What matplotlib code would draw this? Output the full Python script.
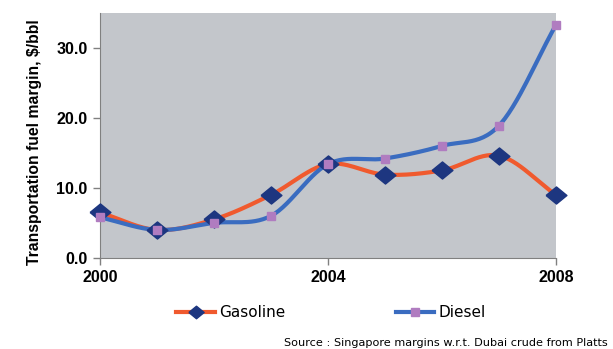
import matplotlib.pyplot as plt
import matplotlib.font_manager as fm
import numpy as np

plt.rcParams['font.family'] = ['Liberation Sans', 'DejaVu Sans']

# data
years = [2000, 2001, 2002, 2003, 2004, 2005, 2006, 2007, 2008]
gasoline = [6.5, 4.0, 5.5, 9.0, 13.4, 11.9, 12.5, 14.6, 9.0]
diesel = [5.8, 4.0, 5.0, 6.0, 13.4, 14.2, 16.0, 18.9, 33.3]
xticks = [2000, 2004, 2008]
yticks = [0, 10, 20, 30]

bold = fm.FontProperties(family='Liberation Sans', weight='bold')

# slightly flattened diamond, like the excel marker
diamond = [(-1, 0), (0, 0.82), (1, 0), (0, -0.82), (-1, 0)]


def smooth(x, y, n=30):
    # catmull-rom curve through the points, like excel's smoothed line
    x = np.asarray(x, float)
    y = np.asarray(y, float)
    px = np.concatenate([[2 * x[0] - x[1]], x, [2 * x[-1] - x[-2]]])
    py = np.concatenate([[2 * y[0] - y[1]], y, [2 * y[-1] - y[-2]]])
    xs, ys = [], []
    t = np.linspace(0, 1, n)
    for i in range(1, len(px) - 2):
        for p, out in ((px, xs), (py, ys)):
            p0, p1, p2, p3 = p[i - 1], p[i], p[i + 1], p[i + 2]
            out.extend(0.5 * ((2 * p1) + (-p0 + p2) * t
                              + (2 * p0 - 5 * p1 + 4 * p2 - p3) * t ** 2
                              + (-p0 + 3 * p1 - 3 * p2 + p3) * t ** 3))
    return xs, ys


fig = plt.figure(figsize=(6.13, 3.49), dpi=100)
ax = fig.add_axes([0.163, 0.261, 0.744, 0.702])
ax.set_facecolor('#c3c6cb')

gx, gy = smooth(years, gasoline)
dx, dy = smooth(years, diesel)
ax.plot(gx, gy, color='#f05a2e', lw=3, solid_capstyle='round', zorder=2)
ax.plot(dx, dy, color='#3a6cc0', lw=3, solid_capstyle='round', zorder=3)
ax.plot(years, gasoline, ls='none', marker=diamond, ms=15, color='#1d3680',
        clip_on=False, zorder=4)
ax.plot(years, diesel, ls='none', marker='s', ms=5.5, color='#b07cc0',
        clip_on=False, zorder=5)

# legend proxies
ax.plot([], [], color='#f05a2e', lw=3, marker=diamond, ms=11,
        mfc='#1d3680', mec='#1d3680', label='Gasoline')
ax.plot([], [], color='#3a6cc0', lw=3, marker='s', ms=5.5,
        mfc='#b07cc0', mec='#b07cc0', label='Diesel')

ax.set_xlim(2000, 2008)
ax.set_ylim(0, 35)
ax.set_xticks(xticks)
ax.set_yticks(yticks)
ax.set_yticklabels(['%.1f' % v for v in yticks])
ax.tick_params(color='#808080', length=5, width=1)
ax.tick_params(axis='y', pad=4)
for lab in ax.get_xticklabels() + ax.get_yticklabels():
    lab.set_fontproperties(bold)
    lab.set_fontsize(11.5)

for s in ['top', 'right']:
    ax.spines[s].set_visible(False)
for s in ['left', 'bottom']:
    ax.spines[s].set_color('#808080')

ax.set_ylabel('Transportation fuel margin, $/bbl', fontproperties=bold,
              fontsize=11.3, labelpad=10)
ax.yaxis.label.set_y(0.471)

h, l = ax.get_legend_handles_labels()
fig.legend(h[-2:], l[-2:], loc='center', bbox_to_anchor=(0.54, 0.105),
           ncol=2, frameon=False, prop={'family': 'DejaVu Sans', 'size': 11},
           columnspacing=7.2, handlelength=2.5, handletextpad=0.3)

fig.text(0.992, 0.004, 'Source : Singapore margins w.r.t. Dubai crude from Platts',
         ha='right', va='bottom', fontsize=8.1, family='DejaVu Sans')

fig.savefig('out.png', dpi=100)
